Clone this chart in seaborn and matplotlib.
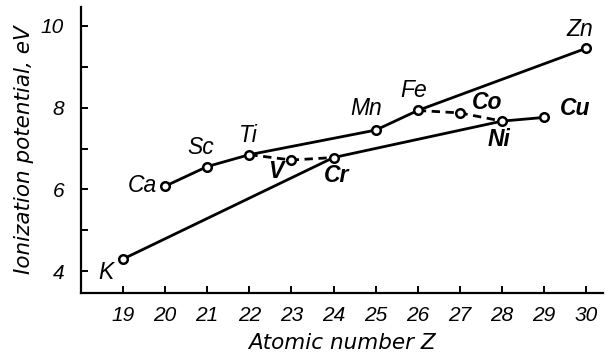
import matplotlib
matplotlib.use("Agg")
import matplotlib.pyplot as plt
import seaborn as sns
import pandas as pd

# First ionization potentials of the 4th-period elements
elements = ["K", "Ca", "Sc", "Ti", "V", "Cr", "Mn", "Fe", "Co", "Ni", "Cu", "Zn"]
atomic_z = [19, 20, 21, 22, 23, 24, 25, 26, 27, 28, 29, 30]
potential = [4.30, 6.08, 6.56, 6.85, 6.72, 6.78, 7.45, 7.93, 7.87, 7.67, 7.76, 9.45]

# Chains of elements joined by lines
upper_chain = ["Ca", "Sc", "Ti", "Mn", "Fe", "Zn"]
lower_chain = ["K", "Cr", "Ni", "Cu"]
dashed_chains = [["Ti", "V", "Cr"], ["Fe", "Co", "Ni"]]
bold_labels = ["V", "Cr", "Co", "Ni", "Cu"]

# Label offsets in pixels relative to each point
label_offsets = {
    "K": (-17, -13), "Ca": (-23, 1), "Sc": (-7, 19), "Ti": (-1, 19),
    "V": (-16, -12), "Cr": (3, -18), "Mn": (-10, 22), "Fe": (-4, 20),
    "Co": (27, 10), "Ni": (-3, -18), "Cu": (31, 9), "Zn": (-6, 19),
}

df = pd.DataFrame({"element": elements, "Z": atomic_z, "IP": potential}).set_index("element")

sns.set_style("ticks")
plt.rcParams["font.family"] = ["Liberation Sans", "DejaVu Sans"]
plt.rcParams.update({"text.color": "black", "axes.labelcolor": "black",
                     "xtick.color": "black", "ytick.color": "black",
                     "axes.edgecolor": "black"})

fig = plt.figure(figsize=(6.08, 3.64), dpi=100)
ax = fig.add_axes([0.133, 0.195, 0.859, 0.786])

line_kw = dict(color="black", linewidth=2.0, sort=False, ax=ax)
for chain in [upper_chain, lower_chain]:
    sub = df.loc[chain]
    sns.lineplot(x=sub["Z"], y=sub["IP"], linestyle="-", **line_kw)
for chain in dashed_chains:
    sub = df.loc[chain]
    sns.lineplot(x=sub["Z"], y=sub["IP"], linestyle=(0, (3.0, 2.0)), **line_kw)

sns.scatterplot(x=df["Z"], y=df["IP"], marker="o", s=38, facecolor="white",
                edgecolor="black", linewidth=1.8, zorder=5, ax=ax)

for el in elements:
    dx, dy = label_offsets[el]
    ax.annotate(el, (df.loc[el, "Z"], df.loc[el, "IP"]), xytext=(dx, dy),
                textcoords="offset pixels", ha="center", va="center",
                fontsize=16.5, style="italic", color="black",
                fontweight="bold" if el in bold_labels else "normal")

ax.set_xlim(18.0, 30.4)
ax.set_ylim(3.47, 10.46)
ax.set_xticks(atomic_z)
ax.set_xticklabels([str(z) for z in atomic_z], fontsize=15, style="italic")
ax.set_yticks([4, 5, 6, 7, 8, 9, 10])
ax.set_yticklabels(["4", "", "6", "", "8", "", "10"], fontsize=15, style="italic")
ax.tick_params(direction="in", length=5, width=1.4, color="black", labelcolor="black")
ax.tick_params(axis="x", pad=9)
ax.tick_params(axis="y", pad=12)

label_font = dict(fontsize=15.5, style="italic", family="DejaVu Sans", color="black")
ax.set_xlabel("Atomic number Z", labelpad=6, **label_font)
ax.set_ylabel("Ionization potential, eV", labelpad=5, **label_font)

for side in ["top", "right"]:
    ax.spines[side].set_visible(False)
for side in ["left", "bottom"]:
    ax.spines[side].set_linewidth(1.6)
    ax.spines[side].set_color("black")

fig.savefig("out.png", dpi=100)
